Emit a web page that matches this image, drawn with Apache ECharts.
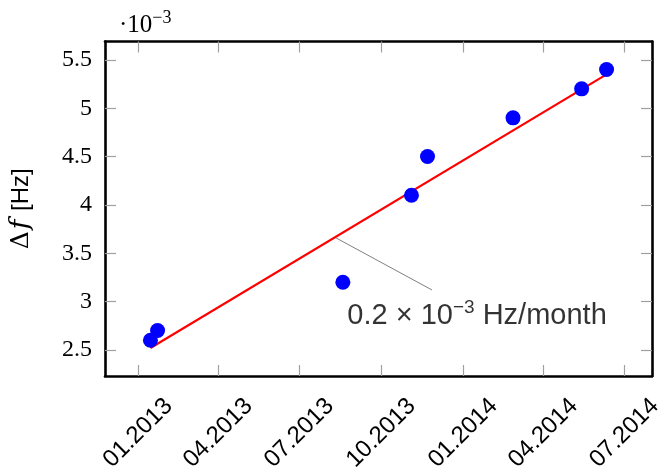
<!DOCTYPE html>
<html>
<head>
<meta charset="utf-8">
<script src="https://cdn.jsdelivr.net/npm/echarts@6/dist/echarts.min.js"></script>
<style>
  html, body { margin: 0; padding: 0; background: #fff; }
  #chart { width: 664px; height: 471px; }
</style>
</head>
<body>
<div id="chart"></div>
<script>
  // measurement dates and frequency offsets (in 10^-3 Hz)
  var measDates = ['2013-01-15', '2013-01-23', '2013-08-19', '2013-11-04', '2013-11-22', '2014-02-26', '2014-05-14', '2014-06-11'];
  var measValues = [2.6, 2.7, 3.2, 4.1, 4.5, 4.9, 5.2, 5.4];

  // linear fit, end points
  var fitDates = ['2013-01-15', '2014-06-11'];
  var fitValues = [2.52, 5.35];

  // pointer from the fit line to the slope label
  var noteDates = ['2013-08-10', '2013-11-27'];
  var noteValues = [3.665, 3.12];
  var noteTextDate = '2013-08-24';
  var noteTextValue = 2.85;

  // axes
  var xTicks = ['2013-01-01', '2013-04-01', '2013-07-01', '2013-10-01', '2014-01-01', '2014-04-01', '2014-07-01'];
  var xRange = ['2012-11-25', '2014-08-01'];
  var yTicks = [2.5, 3, 3.5, 4, 4.5, 5, 5.5];
  var yRange = [2.23, 5.69];

  // dates become timestamps, the x axis is a plain value axis over them
  var t = function (s) { return +echarts.time.parse(s); };
  function monthLabel(v) {
    var d = new Date(v);
    var m = d.getMonth() + 1;
    return (m < 10 ? '0' + m : '' + m) + '.' + d.getFullYear();
  }

  var xTickTimes = xTicks.map(t);
  var tickStyle = { show: true, inside: true, length: 11, lineStyle: { color: '#a0a0a0', width: 1.2 } };
  var frame = { show: true, onZero: false, lineStyle: { color: '#000', width: 2.6 } };

  function xAxisDef(pos, withLabels) {
    return {
      type: 'value',
      position: pos,
      min: t(xRange[0]),
      max: t(xRange[1]),
      axisLine: frame,
      axisTick: Object.assign({ customValues: xTickTimes }, tickStyle),
      splitLine: { show: false },
      axisLabel: withLabels ? {
        customValues: xTickTimes,
        formatter: monthLabel,
        rotate: 45,
        align: 'center',
        verticalAlign: 'middle',
        margin: 57,
        fontFamily: 'Liberation Sans',
        fontSize: 24,
        color: '#000'
      } : { show: false }
    };
  }

  function yAxisDef(pos, withLabels) {
    var ax = {
      type: 'value',
      position: pos,
      min: yRange[0],
      max: yRange[1],
      axisLine: frame,
      axisTick: Object.assign({ customValues: yTicks }, tickStyle),
      splitLine: { show: false },
      axisLabel: withLabels ? {
        customValues: yTicks,
        margin: 13,
        fontFamily: 'Liberation Serif',
        fontSize: 24,
        color: '#000'
      } : { show: false }
    };
    if (withLabels) {
      ax.name = '{d|Δ}{f|f}{h| [Hz]}';
      ax.nameLocation = 'middle';
      ax.nameRotate = 90;
      ax.nameGap = 71;
      ax.nameTextStyle = {
        color: '#000',
        rich: {
          d: { fontFamily: 'DejaVu Serif', fontSize: 25, color: '#000' },
          f: { fontFamily: 'DejaVu Serif', fontStyle: 'italic', fontSize: 26, color: '#000', padding: [0, 2, 0, 2] },
          h: { fontFamily: 'Liberation Sans', fontSize: 24, color: '#000' }
        }
      };
    }
    return ax;
  }

  var chart = echarts.init(document.getElementById('chart'), null, { renderer: 'canvas' });
  chart.setOption({
    animation: false,
    backgroundColor: '#fff',
    title: {
      text: '{a|·10}{b|−3}',
      left: 114,
      top: 4,
      textStyle: {
        fontWeight: 'normal',
        rich: {
          a: { fontFamily: 'Liberation Serif', fontWeight: 'normal', fontSize: 25, color: '#000', lineHeight: 32 },
          b: { fontFamily: 'Liberation Serif', fontWeight: 'normal', fontSize: 18, color: '#000', verticalAlign: 'top', lineHeight: 20 }
        }
      }
    },
    grid: { left: 105, right: 12, top: 41.5, bottom: 95, outerBoundsMode: 'none' },
    xAxis: [xAxisDef('bottom', true), xAxisDef('top', false)],
    yAxis: [yAxisDef('left', true), yAxisDef('right', false)],
    series: [
      {
        type: 'line',
        data: fitDates.map(function (d, i) { return [t(d), fitValues[i]]; }),
        symbol: 'none',
        lineStyle: { color: '#ff0000', width: 2.2 },
        z: 2
      },
      {
        type: 'line',
        data: noteDates.map(function (d, i) { return [t(d), noteValues[i]]; }),
        symbol: 'none',
        lineStyle: { color: '#808080', width: 1 },
        z: 1
      },
      {
        type: 'scatter',
        data: measDates.map(function (d, i) { return [t(d), measValues[i]]; }),
        symbol: 'circle',
        symbolSize: 15,
        itemStyle: { color: '#0000ff', opacity: 1 },
        z: 3
      },
      {
        type: 'scatter',
        data: [[t(noteTextDate), noteTextValue]],
        symbolSize: 0,
        silent: true,
        label: {
          show: true,
          position: [0, 0],
          align: 'left',
          verticalAlign: 'middle',
          color: '#000',
          formatter: '{n|0.2 × 10}{s|−3}{n| Hz/month}',
          rich: {
            n: { fontFamily: 'Liberation Sans', fontSize: 29, color: '#000', lineHeight: 36 },
            s: { fontFamily: 'Liberation Sans', fontSize: 19, color: '#000', verticalAlign: 'top', lineHeight: 22 }
          }
        },
        z: 4
      }
    ]
  });
</script>
</body>
</html>
